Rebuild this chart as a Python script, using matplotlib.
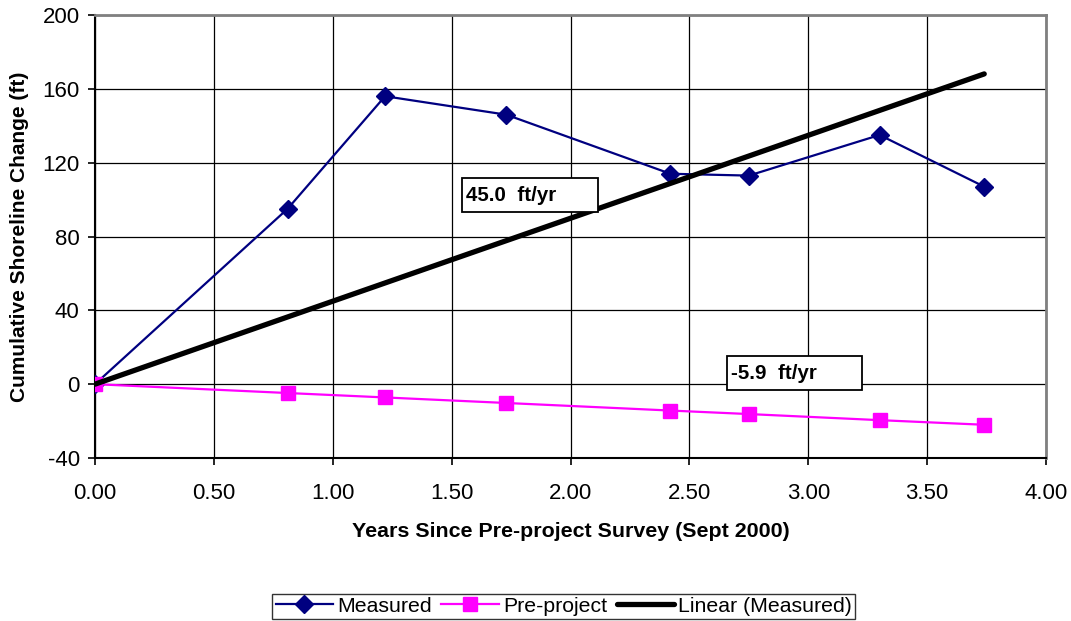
import numpy as np
import matplotlib
matplotlib.use("Agg")
import matplotlib.pyplot as plt
from matplotlib.patches import Rectangle

# data
years = [0.0, 0.81, 1.22, 1.73, 2.42, 2.75, 3.30, 3.74]
measured = [0, 95, 156, 146, 114, 113, 135, 107]
pre_project = [0, -4.8, -7.2, -10.2, -14.3, -16.2, -19.5, -22.0]
x_ticks = [0.0, 0.5, 1.0, 1.5, 2.0, 2.5, 3.0, 3.5, 4.0]
y_ticks = [-40, 0, 40, 80, 120, 160, 200]
rate_labels = ["45.0  ft/yr", "-5.9  ft/yr"]

plt.rcParams['font.family'] = ['Liberation Sans', 'DejaVu Sans']
plt.rcParams['axes.unicode_minus'] = False

fig = plt.figure(figsize=(10.71, 6.21), dpi=100)
ax = fig.add_axes([0.0887, 0.2625, 0.8880, 0.7133])

ax.grid(True, color='black', linewidth=0.9, zorder=0)
ax.set_axisbelow(True)

x = np.array(years)
y = np.array(measured)
slope = (x * y).sum() / (x * x).sum()   # trendline through origin
x_fit = np.array([x.min(), x.max()])

ax.plot(years, measured, color='#000080', linewidth=1.6, marker='D', markersize=9.5,
        label='Measured', zorder=3)
ax.plot(years, pre_project, color='#FF00FF', linewidth=1.6, marker='s', markersize=9.5,
        label='Pre-project', zorder=3)
ax.plot(x_fit, slope * x_fit, color='black', linewidth=3.8, solid_capstyle='round',
        label='Linear (Measured)', zorder=4)

# rate text boxes (fixed-size boxes like the spreadsheet's labels)
for (bx, by, bw, bh), lab in zip([(1.544, 93.2, 0.572, 18.5), (2.658, -3.3, 0.568, 18.5)], rate_labels):
    ax.add_patch(Rectangle((bx, by), bw, bh, facecolor='white', edgecolor='black',
                           linewidth=1.3, zorder=5))
    ax.text(bx + 0.018, by + bh / 2, lab, fontsize=14.8, fontweight='bold',
            ha='left', va='center', zorder=6)

ax.set_xlim(0, 4)
ax.set_ylim(-40, 200)
ax.set_xticks(x_ticks)
ax.set_xticklabels([f"{v:.2f}" for v in x_ticks])
ax.set_yticks(y_ticks)
ax.tick_params(axis='both', labelsize=16, direction='out', length=5, width=1.2, colors='black')
ax.tick_params(axis='x', pad=13)
ax.tick_params(axis='y', pad=6)

for side in ('left', 'bottom'):
    ax.spines[side].set_color('black')
    ax.spines[side].set_linewidth(1.5)
for side in ('top', 'right'):
    ax.spines[side].set_color('#808080')
    ax.spines[side].set_linewidth(2.0)

ax.set_xlabel('Years Since Pre-project Survey (Sept 2000)', fontsize=15.4, fontweight='bold', labelpad=13)
ax.set_ylabel('Cumulative Shoreline Change (ft)', fontsize=15, fontweight='bold', labelpad=10)

leg = fig.legend(loc='lower center', bbox_to_anchor=(0.5266, 0.0), ncol=3, fontsize=15.3,
                 frameon=True, fancybox=False, edgecolor='black', handlelength=2.7,
                 handletextpad=0.2, columnspacing=0.45, borderpad=0.15, borderaxespad=0.1)
leg.get_frame().set_linewidth(1.0)

fig.savefig('out.png', dpi=100)
